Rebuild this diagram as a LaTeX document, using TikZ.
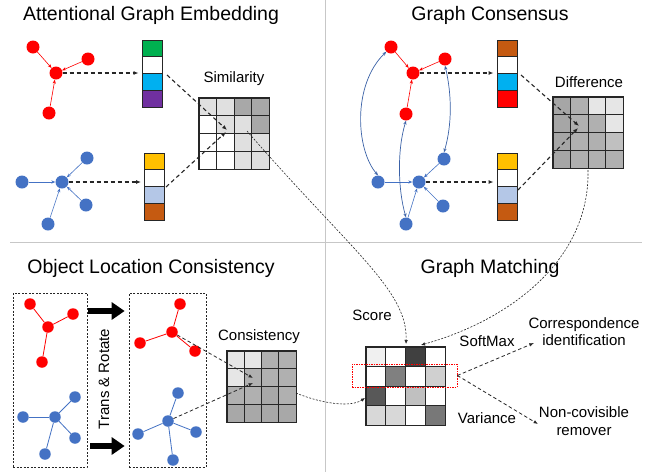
\documentclass[tikz,border=0pt]{standalone}
\usepackage{fontspec}
\setmainfont{Liberation Sans}
\usetikzlibrary{arrows.meta}
\definecolor{gred}{RGB}{255,0,0}
\definecolor{gblue}{RGB}{68,114,196}
\definecolor{vgreen}{HTML}{00B050}
\definecolor{vcyan}{HTML}{00B0F0}
\definecolor{vpurple}{HTML}{7030A0}
\definecolor{vgold}{HTML}{FFC000}
\definecolor{vlblue}{HTML}{B4C7E7}
\definecolor{vbrown}{HTML}{C55A11}
\definecolor{vred}{HTML}{FF0000}
\tikzset{
 title/.style={font=\fontsize{19.5}{22}\selectfont},
 lbl/.style={font=\fontsize{15}{17}\selectfont, align=center},
 rn/.style={circle, fill=gred, inner sep=0pt, minimum size=13pt},
 bn/.style={circle, fill=gblue, inner sep=0pt, minimum size=13pt},
 rs/.style={rn, minimum size=11.5pt},
 bs/.style={bn, minimum size=11.5pt},
 redge/.style={draw=gred, line width=0.6pt, -{Stealth[length=4pt,width=3.2pt]}},
 bedge/.style={draw=gblue, line width=0.6pt, -{Stealth[length=4pt,width=3.2pt]}},
 bbi/.style={draw=gblue!85!black, line width=0.7pt, {Stealth[length=4pt,width=3.2pt]}-{Stealth[length=4pt,width=3.2pt]}},
 rline/.style={draw=gred, line width=0.8pt},
 bline/.style={draw=gblue, line width=0.8pt},
 dasharr/.style={draw=black!85, line width=1.1pt, dash pattern=on 4pt off 3pt, -{Latex[length=5pt,width=4pt]}},
 thinarr/.style={draw=black!85, line width=0.8pt, dash pattern=on 3.5pt off 2.5pt, -{Latex[length=4.5pt,width=3.5pt]}},
 dotarr/.style={draw=black!85, line width=0.6pt, dash pattern=on 2pt off 1.5pt, -{Latex[length=4pt,width=3.5pt]}},
 cell/.style={draw=black!85, line width=0.7pt, inner sep=0pt, rectangle},
 vcell/.style={draw=black!85, line width=0.9pt, inner sep=0pt, rectangle, minimum width=20pt},
 dbox/.style={draw=black!85, line width=0.7pt, dash pattern=on 2pt off 1.5pt, inner sep=0pt},
 divider/.style={draw=black!22, line width=1pt},
 fat/.style={draw=black, line width=6pt, -{Triangle[length=13pt,width=17pt]}},
}
\newcommand\drawgrid[6]{%
 \foreach \g [count=\k from 0] in {#6} {
   \pgfmathtruncatemacro\rr{int(\k/4)}
   \pgfmathtruncatemacro\cc{mod(\k,4)}
   \node[cell, minimum width=#4pt, minimum height=#5pt, fill={rgb,255:red,\g;green,\g;blue,\g}] (#1-\rr-\cc) at ({#2+(\cc+0.5)*#4},{#3+(\rr+0.5)*#5}) {};
 }
 \draw[line width=1.1pt, black!85] (#1-0-0.north west) rectangle (#1-3-3.south east);
}
\newcommand\drawvec[5]{%
 \foreach \cl [count=\k from 0] in {#5} {
   \node[vcell, minimum height=#4pt, fill=\cl] (#1-\k) at ({#2},{#3+(\k+0.5)*#4}) {};
 }
}
\begin{document}
\begin{tikzpicture}[x=1pt,y=-1pt]
\useasboundingbox (0,0) rectangle (660,472);
\fill[white] (0,0) rectangle (660,472);
% dividers
\draw[divider] (325,0) -- (325,472);
\draw[divider] (10,242) -- (642,242);

% titles
\node[title] (t1) at (151,15) {Attentional Graph Embedding};
\node[title] (t2) at (490,15) {Graph Consensus};
\node[title] (t3) at (151,268) {Object Location Consistency};
\node[title] (t4) at (490,268) {Graph Matching};

% ===== Attentional Graph Embedding =====
\node[rn] (A) at (33,47) {};
\node[rn] (B) at (56,73) {};
\node[rn] (C) at (88,59) {};
\node[rn] (D) at (49,113) {};
\draw[redge] (A) -- (B);
\draw[redge] (C) -- (B);
\draw[redge] (D) -- (B);
\node[bn] (E) at (62,182) {};
\node[bn] (F) at (22,182) {};
\node[bn] (G) at (87,158) {};
\node[bn] (H) at (86,205) {};
\node[bn] (I) at (48,224) {};
\draw[bedge] (F) -- (E);
\draw[bedge] (G) -- (E);
\draw[bedge] (H) -- (E);
\draw[bedge] (I) -- (E);
\drawvec{eR}{152}{40}{16.75}{vgreen,white,vcyan,vpurple}
\drawvec{eB}{154.5}{153}{16.75}{vgold,white,vlblue,vbrown}
\draw[dasharr, shorten >=3pt] (B.east) -- (B.east -| eR-2.west);
\draw[dasharr, shorten >=3pt] (E.east) -- (E.east -| eB-2.west);
\drawgrid{sim}{199}{98}{17.5}{17.75}{224,224,168,168,255,224,224,168,255,255,224,224,255,255,224,224}
\node[lbl] (simL) at (234,79) {Similarity};
\coordinate (s1) at (167,75);
\coordinate (s2) at (166,187);
\coordinate (s3) at (227,130);
\coordinate (s4) at (226,132);
\draw[dasharr] (s1) -- (s3);
\draw[dasharr] (s2) -- (s4);

% ===== Graph Consensus =====
\node[rn] (ca) at (391,47) {};
\node[rn] (cb) at (413,73) {};
\node[rn] (cc) at (445,59) {};
\node[rn] (cd) at (406,114) {};
\draw[redge] (ca) -- (cb);
\draw[redge] (cc) -- (cb);
\draw[redge] (cd) -- (cb);
\node[bn] (ce) at (419,182) {};
\node[bn] (cf) at (378,182) {};
\node[bn] (cg) at (444,159) {};
\node[bn] (ch) at (443,206) {};
\node[bn] (ci) at (406,224) {};
\draw[bedge] (cf) -- (ce);
\draw[bedge] (cg) -- (ce);
\draw[bedge] (ch) -- (ce);
\draw[bedge] (ci) -- (ce);
\draw[bbi] (ca.south west) .. controls (352,85) and (356,150) .. (cf.north);
\draw[bbi] (cc.south) .. controls (452,95) and (452,125) .. (cg.north);
\draw[bbi] (cd.south) .. controls (397,150) and (398,190) .. (ci.north);
\drawvec{gR}{507}{40}{16.75}{vbrown,white,vcyan,vred}
\drawvec{gB}{507}{153}{16.75}{vgold,white,vlblue,vbrown}
\draw[dasharr, shorten >=3pt] (cb.east) -- (cb.east -| gR-2.west);
\draw[dasharr, shorten >=3pt] (ce.east) -- (ce.east -| gB-2.west);
\drawgrid{dif}{553}{97}{17.5}{17.75}{166,176,230,230,166,176,176,230,166,176,176,192,166,176,176,176}
\node[lbl] (difL) at (589,82) {Difference};
\coordinate (d1) at (521,75);
\coordinate (d2) at (518,190);
\coordinate (d3) at (579,126);
\coordinate (d4) at (578,128);
\draw[dasharr] (d1) -- (d3);
\draw[dasharr] (d2) -- (d4);

% ===== Object Location Consistency =====
\node[dbox, minimum width=74pt, minimum height=174pt] (boxL) at (50,380) {};
\node[dbox, minimum width=77pt, minimum height=174pt] (boxR) at (167.5,380) {};
\node[rs] (l0) at (48,327) {};
\node[rs] (l1) at (30,304) {};
\node[rs] (l2) at (73,314) {};
\node[rs] (l3) at (42,362) {};
\foreach \n in {l1,l2,l3} \draw[rline] (l0) -- (\n);
\node[bs] (m0) at (55,417) {};
\node[bs] (m1) at (23,417) {};
\node[bs] (m2) at (75,397) {};
\node[bs] (m3) at (75,438) {};
\node[bs] (m4) at (45,454) {};
\foreach \n in {m1,m2,m3,m4} \draw[bline] (m0) -- (\n);
\node[rs] (p0) at (172,332) {};
\node[rs] (p1) at (180,304) {};
\node[rs] (p2) at (140,343) {};
\node[rs] (p3) at (195,351) {};
\foreach \n in {p1,p2,p3} \draw[rline] (p0) -- (\n);
\node[bs] (q0) at (168,421) {};
\node[bs] (q1) at (178,393) {};
\node[bs] (q2) at (138,434) {};
\node[bs] (q3) at (196,432) {};
\node[bs] (q4) at (173,460) {};
\foreach \n in {q1,q2,q3,q4} \draw[bline] (q0) -- (\n);
\coordinate (ya) at (0,311);
\coordinate (yb) at (0,446);
\draw[fat, shorten <=1pt, shorten >=4pt] (boxL.east |- ya) -- (boxR.west |- ya);
\draw[fat, shorten <=3pt, shorten >=4pt] (boxL.east |- yb) -- (boxR.west |- yb);
\node[lbl, rotate=90] (tr) at (104,379) {Trans \& Rotate};
\drawgrid{con}{227}{351}{17.25}{17.75}{230,230,176,176,230,176,176,176,176,176,168,176,168,168,168,168}
\node[lbl] (conL) at (259,337) {Consistency};
\coordinate (k1) at (253,378);
\coordinate (k2) at (253,383);
\draw[thinarr] (p0) -- (k1);
\draw[thinarr] (q0) -- (k2);

% ===== Graph Matching =====
\drawgrid{mat}{366}{347}{19.75}{19.5}{240,255,64,255,255,128,255,208,88,255,192,255,216,216,255,120}
\node[draw=red, line width=0.7pt, dash pattern=on 1.5pt off 1pt, minimum width=105pt, minimum height=23pt, inner sep=0pt] (sel) at (404.5,375.5) {};
\node[lbl] (scL) at (372,315) {Score};
\node[lbl] (smL) at (487,341) {SoftMax};
\node[lbl] (vaL) at (487,418) {Variance};
\node[lbl] (corr) at (584,332) {Correspondence\\identification};
\node[lbl] (ncov) at (584,421) {Non-covisible\\[1pt]remover};
\coordinate (ci1) at (534,343);
\coordinate (nr1) at (538,424);
\draw[thinarr] (sel.east) -- (ci1);
\draw[thinarr] (sel.east) -- (nr1);

% long dotted connectors
\coordinate (simout) at (247,131);
\coordinate (difout) at (588,170);
\coordinate (conout) at (296,393);
\coordinate (scin) at (406,344);
\coordinate (dfin) at (421,345);
\coordinate (cnin) at (365,398);
\draw[dotarr] (simout) .. controls (350,250) and (408,290) .. (scin);
\draw[dotarr] (difout) .. controls (590,260) and (510,320) .. (dfin);
\draw[dotarr] (conout) .. controls (320,403) and (350,408) .. (cnin);
\end{tikzpicture}
\end{document}
